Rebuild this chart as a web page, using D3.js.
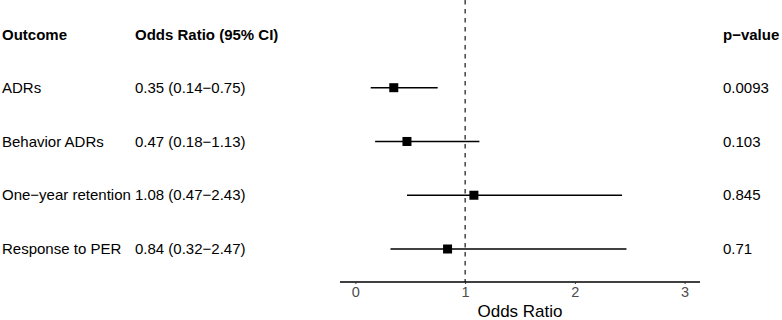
<!DOCTYPE html>
<html>
<head>
<meta charset="utf-8">
<script src="https://cdn.jsdelivr.net/npm/d3@7"></script>
<style>
  body { margin: 0; background: #fff; }
  text { font-family: "Liberation Sans", Arial, sans-serif; }
</style>
</head>
<body>
<div id="chart"></div>
<script>
var outcomes = ["ADRs", "Behavior ADRs", "One\u2212year retention", "Response to PER"];
var oddsRatio = [0.35, 0.47, 1.08, 0.84];
var ciLow = [0.14, 0.18, 0.47, 0.32];
var ciHigh = [0.75, 1.13, 2.43, 2.47];
var ciText = ["0.35 (0.14\u22120.75)", "0.47 (0.18\u22121.13)", "1.08 (0.47\u22122.43)", "0.84 (0.32\u22122.47)"];
var pValues = ["0.0093", "0.103", "0.845", "0.71"];
var xTicks = [0, 1, 2, 3];

var width = 782, height = 320;

var data = outcomes.map(function(d, i) {
  return {outcome: d, or: oddsRatio[i], lo: ciLow[i], hi: ciHigh[i], ci: ciText[i], p: pValues[i]};
});

var svg = d3.select("#chart").append("svg")
    .attr("width", width)
    .attr("height", height);

// forest panel
var x = d3.scaleLinear()
    .domain([-0.14, 3.14])
    .range([340, 700]);

var y = d3.scalePoint()
    .domain(outcomes)
    .range([87.7, 249]);

var axisY = 282;

// axis
var xAxis = svg.append("g")
    .attr("transform", "translate(0," + axisY + ")")
    .call(d3.axisBottom(x).tickValues(xTicks).tickSize(2).tickPadding(3).tickFormat(d3.format("d")));

xAxis.select(".domain")
    .attr("d", "M" + x.range()[0] + ",0H" + x.range()[1])
    .attr("stroke", "#000")
    .attr("stroke-width", 1.4);
xAxis.selectAll(".tick line").attr("stroke", "#333");
xAxis.selectAll(".tick text")
    .attr("fill", "#4d4d4d")
    .style("font-size", "14.5px")
    .style("font-family", "'Liberation Sans', Arial, sans-serif");

svg.append("text")
    .attr("x", (x.range()[0] + x.range()[1]) / 2)
    .attr("y", 317)
    .attr("text-anchor", "middle")
    .style("font-size", "17px")
    .attr("fill", "#000")
    .text("Odds Ratio");

// reference line at 1
svg.append("line")
    .attr("x1", x(1)).attr("x2", x(1))
    .attr("y1", 0).attr("y2", axisY)
    .attr("stroke", "#000")
    .attr("stroke-width", 1.1)
    .attr("stroke-dasharray", "4.5,4.5");

// CI lines
svg.selectAll(".ci")
    .data(data)
    .enter()
    .append("line")
    .attr("class", "ci")
    .attr("x1", function(d) { return x(d.lo); })
    .attr("x2", function(d) { return x(d.hi); })
    .attr("y1", function(d) { return y(d.outcome); })
    .attr("y2", function(d) { return y(d.outcome); })
    .attr("stroke", "#000")
    .attr("stroke-width", 1.4);

var sq = 9;
svg.selectAll(".pt")
    .data(data)
    .enter()
    .append("rect")
    .attr("class", "pt")
    .attr("x", function(d) { return x(d.or) - sq / 2; })
    .attr("y", function(d) { return y(d.outcome) - sq / 2; })
    .attr("width", sq)
    .attr("height", sq)
    .attr("fill", "#000");

// table columns
var headerY = 35;
var cols = [
  {x: 2, head: "Outcome", key: "outcome"},
  {x: 135, head: "Odds Ratio (95% CI)", key: "ci"},
  {x: 723, head: "p\u2212value", key: "p"}
];

cols.forEach(function(c) {
  svg.append("text")
    .attr("x", c.x)
    .attr("y", headerY)
    .attr("dy", "0.35em")
    .style("font-size", "15px")
    .style("font-weight", "bold")
    .attr("fill", "#000")
    .text(c.head);

  svg.selectAll(".col-" + c.key)
    .data(data)
    .enter()
    .append("text")
    .attr("class", "col-" + c.key)
    .attr("x", c.x)
    .attr("y", function(d) { return y(d.outcome); })
    .attr("dy", "0.35em")
    .style("font-size", "15px")
    .attr("fill", "#000")
    .text(function(d) { return d[c.key]; });
});
</script>
</body>
</html>
